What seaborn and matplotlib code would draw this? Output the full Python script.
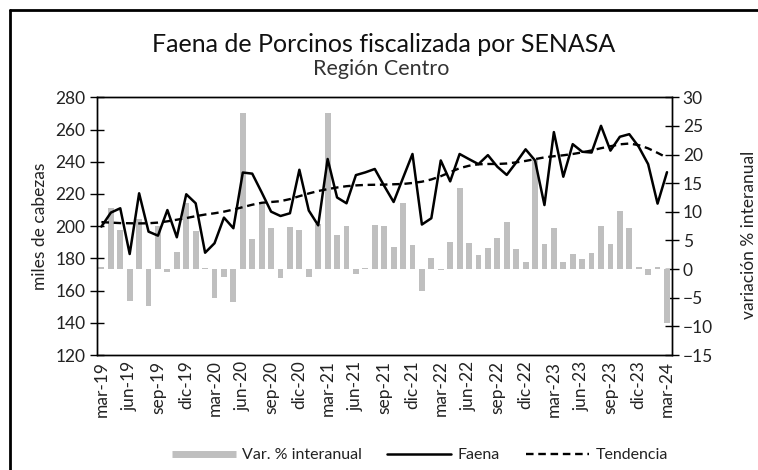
import numpy as np
import pandas as pd
import matplotlib
matplotlib.use("Agg")
import matplotlib.pyplot as plt
from matplotlib.lines import Line2D
import seaborn as sns

# ---- data ----
faena = [199.7, 208.4, 211.1, 182.7, 220.4, 196.6, 194.1, 210.0, 193.1, 219.8,
         214.2, 183.5, 189.4, 205.3, 198.7, 233.3, 232.6, 221.0, 209.0, 206.3,
         208.0, 235.0, 209.7, 200.5, 241.7, 217.8, 214.2, 231.7, 233.4, 235.5,
         225.0, 215.0, 230.0, 244.8, 201.0, 204.9, 240.8, 227.8, 244.8, 241.6,
         238.5, 244.1, 236.9, 231.8, 239.5, 247.7, 240.8, 213.1, 258.4, 230.7,
         250.9, 246.2, 245.7, 262.3, 246.9, 255.5, 257.1, 249.3, 238.5, 214.0,
         233.5]
var_interanual = [0.4, 10.7, 6.8, -5.5, 8.7, -6.5, 7.6, -0.5, 3.0, 11.6,
                  6.7, 0.2, -5.1, -1.3, -5.7, 27.3, 5.3, 11.3, 7.1, -1.6,
                  7.3, 6.8, -1.4, 7.8, 27.3, 6.0, 7.5, -0.9, 0.2, 7.7,
                  7.5, 3.9, 11.6, 4.2, -3.9, 1.9, -0.2, 4.7, 14.1, 4.5,
                  2.4, 3.6, 5.4, 8.2, 3.5, 1.2, 19.0, 4.3, 7.1, 1.3,
                  2.6, 1.7, 2.8, 7.5, 4.3, 10.1, 7.1, 0.3, -1.0, 0.3,
                  -9.4]
tendencia = [202.5, 202.2, 201.9, 201.8, 201.7, 201.8, 202.2, 203.0, 204.0, 205.0,
             206.2, 207.2, 208.0, 209.0, 210.3, 211.8, 213.3, 214.5, 215.0, 215.5,
             216.8, 218.6, 220.3, 221.8, 223.0, 224.0, 224.8, 225.3, 225.6, 225.7,
             225.8, 226.0, 226.2, 226.8, 227.6, 229.0, 231.0, 233.5, 236.0, 237.5,
             238.4, 238.6, 238.6, 238.9, 239.6, 240.5, 241.6, 242.7, 243.4, 244.0,
             244.8, 245.8, 247.0, 248.4, 249.6, 250.8, 251.3, 250.3, 248.3, 245.5,
             242.5]
tick_labels = ["mar-19", "jun-19", "sep-19", "dic-19", "mar-20", "jun-20", "sep-20",
               "dic-20", "mar-21", "jun-21", "sep-21", "dic-21", "mar-22", "jun-22",
               "sep-22", "dic-22", "mar-23", "jun-23", "sep-23", "dic-23", "mar-24"]

n = len(faena)
idx = np.arange(n)
df = pd.DataFrame({"idx": idx, "faena": faena, "var": var_interanual, "tend": tendencia})

sns.set_theme(style="white")
plt.rcParams["font.family"] = ["Lato", "DejaVu Sans"]
TXT = "#222222"

fig = plt.figure(figsize=(7.58, 4.70), dpi=100)
ax = fig.add_axes([96.7 / 758, (470 - 355) / 470, 575 / 758, 257.7 / 470])
ax2 = ax.twinx()

BAR_C = "#BFBFBF"
sns.barplot(data=df, x="idx", y="var", native_scale=True, width=0.62,
            color=BAR_C, errorbar=None, ax=ax2, saturation=1, edgecolor="none")
sns.lineplot(data=df, x="idx", y="faena", color="black", lw=1.8, ax=ax)
sns.lineplot(data=df, x="idx", y="tend", color="black", lw=1.7, ax=ax,
             dashes=False, linestyle=(0, (3.2, 2)))

ax.set_zorder(ax2.get_zorder() + 1)
ax.patch.set_visible(False)

ax.set_xlim(-0.5, n - 0.5)
ax.set_ylim(120, 280)
ax.set_yticks(np.arange(120, 281, 20))
ax2.set_ylim(-15, 30)
ax2.set_yticks(np.arange(-15, 31, 5))

# x ticks: marks at category boundaries, labels at categories
ax.set_xticks(np.arange(-0.5, n, 3))
ax.set_xticklabels([])
ax.set_xticks(np.arange(0, n, 3), minor=True)
ax.set_xticklabels(tick_labels, minor=True, rotation=90, fontsize=12.5, color=TXT)
ax.tick_params(axis="x", which="major", direction="out", length=6, width=1, color="black")
ax.tick_params(axis="x", which="minor", length=0, pad=4)
ax2.set_xticks([])

ax.tick_params(axis="y", direction="inout", length=10, width=1, color="black",
               labelsize=12.5, labelcolor=TXT, pad=3, left=True)
ax2.tick_params(axis="y", direction="inout", length=10, width=1, color="black",
                labelsize=12.5, labelcolor=TXT, pad=3, right=True)
ax.set_xlabel("")
ax.set_ylabel("")
ax2.set_ylabel("")
ax2.set_xlabel("")

for a in (ax, ax2):
    for s in a.spines.values():
        s.set_visible(True)
        s.set_color("black")
        s.set_linewidth(1.0)

# titles
fig.text(384 / 758, 1 - 44 / 470, "Faena de Porcinos fiscalizada por SENASA",
         ha="center", va="center", fontsize=18, color="#111111")
fig.text(381 / 758, 1 - 69 / 470, "Región Centro",
         ha="center", va="center", fontsize=15.5, color="#333333")
fig.text(40 / 758, 1 - 226 / 470, "miles de cabezas", rotation=90,
         ha="center", va="center", fontsize=12.5, color=TXT)
fig.text(749 / 758, 1 - 235 / 470, "variación % interanual", rotation=90,
         ha="center", va="center", fontsize=12.5, color=TXT)

# legend
handles = [Line2D([], [], color=BAR_C, lw=5, solid_capstyle="butt"),
           Line2D([], [], color="black", lw=1.8),
           Line2D([], [], color="black", lw=1.7, linestyle=(0, (3.2, 2)))]
fig.legend(handles, ["Var. % interanual", "Faena", "Tendencia"],
           loc="center", bbox_to_anchor=(420 / 758, 1 - 455 / 470), ncol=3,
           frameon=False, fontsize=11.5, handlelength=4.0, handletextpad=0.4,
           columnspacing=1.6, labelcolor=TXT)

# outer frame (left and top edges)
fig.add_artist(Line2D([10 / 758, 10 / 758], [0, 1 - 10 / 470], color="black",
                      lw=2.0, transform=fig.transFigure))
fig.add_artist(Line2D([10 / 758, 1], [1 - 10 / 470, 1 - 10 / 470], color="black",
                      lw=2.0, transform=fig.transFigure))

fig.savefig("out.png", dpi=100)
